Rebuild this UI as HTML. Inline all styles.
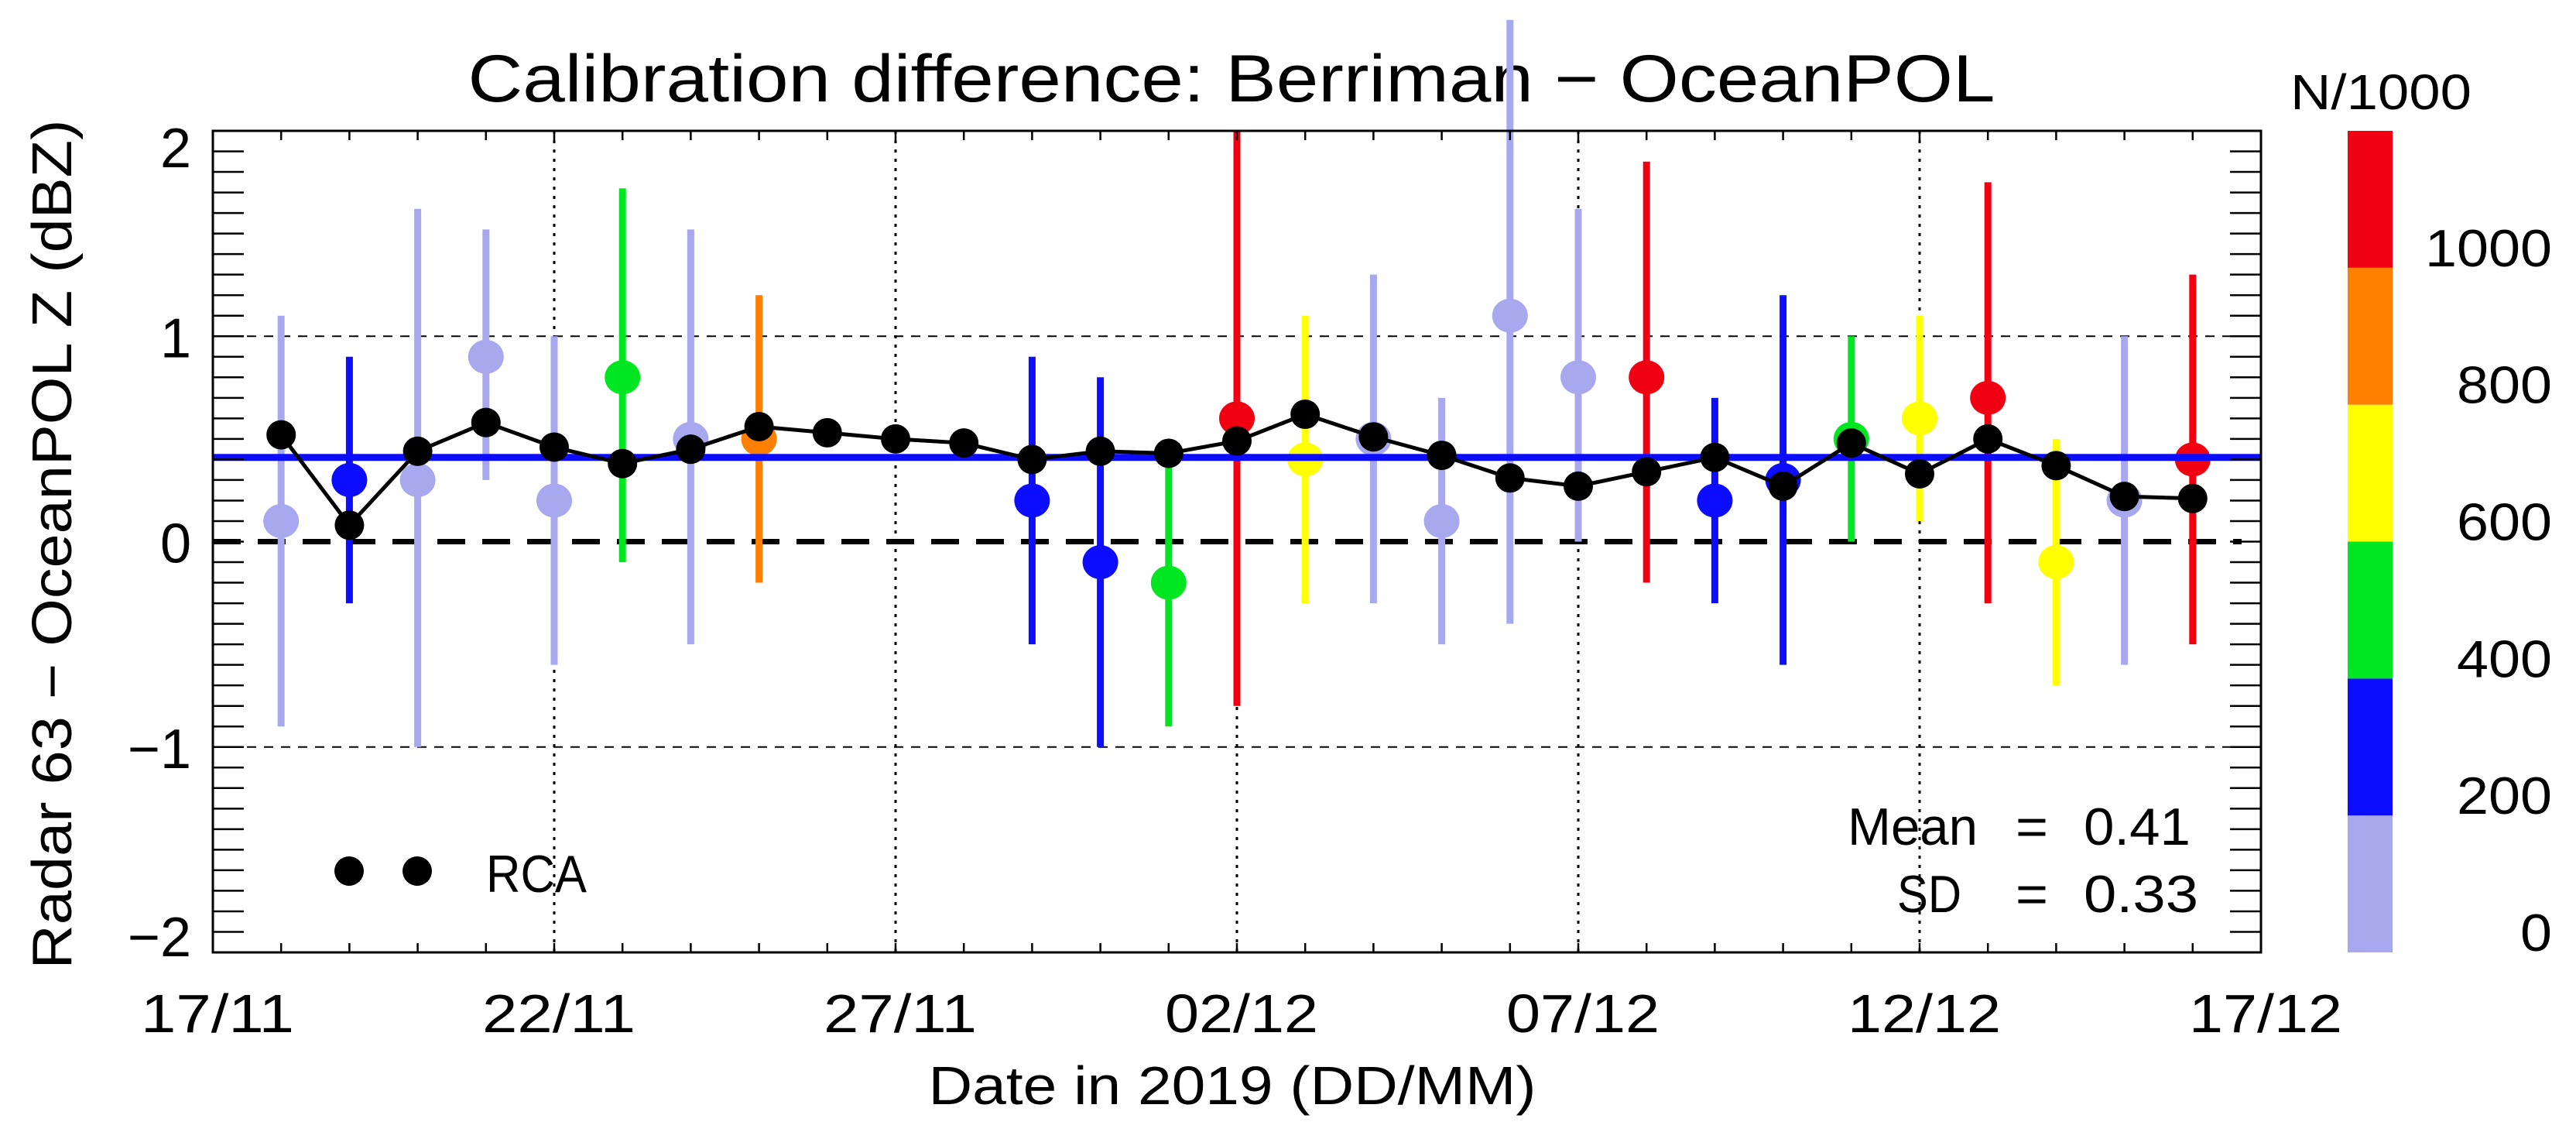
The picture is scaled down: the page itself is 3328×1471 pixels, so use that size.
<!DOCTYPE html>
<html><head><meta charset="utf-8">
<style>
html,body{margin:0;padding:0;background:#fff;}
svg{display:block;font-family:"Liberation Sans",sans-serif;}
</style></head>
<body>
<svg id="chart" width="3328" height="1471" viewBox="0 0 3328 1471" xmlns="http://www.w3.org/2000/svg">
<text x="1591" y="131" font-size="86" text-anchor="middle" textLength="1973" lengthAdjust="spacingAndGlyphs">Calibration difference: Berriman − OceanPOL</text>
<text x="0" y="0" font-size="72" text-anchor="middle" textLength="1097" lengthAdjust="spacingAndGlyphs" transform="translate(92,703) rotate(-90)">Radar 63 − OceanPOL Z (dBZ)</text>
<text x="1592" y="1426" font-size="70" text-anchor="middle" textLength="785" lengthAdjust="spacingAndGlyphs">Date in 2019 (DD/MM)</text>
<g id="plot"></g>
</svg>
<script>
const days = [1,2,3,4,5,6,7,8,9,10,11,12,13,14,15,16,17,18,19,20,21,22,23,24,25,26,27,28,29];
const rcaValues = [0.52,0.08,0.44,0.58,0.46,0.38,0.45,0.56,0.53,0.50,0.48,0.40,0.44,0.43,0.49,0.62,0.51,0.42,0.31,0.27,0.34,0.41,0.27,0.48,0.33,0.50,0.37,0.22,0.21];
const obsDays = [1,2,3,4,5,6,7,8,12,13,14,15,16,17,18,19,20,21,22,23,24,25,26,27,28,29];
const obsMean = [0.1,0.3,0.3,0.9,0.2,0.8,0.5,0.5,0.2,-0.1,-0.2,0.6,0.4,0.5,0.1,1.1,0.8,0.8,0.2,0.3,0.5,0.6,0.7,-0.1,0.2,0.4];
const obsLow = [-0.9,-0.3,-1.0,0.3,-0.6,-0.1,-0.5,-0.2,-0.5,-1.0,-0.9,-0.8,-0.3,-0.3,-0.5,-0.4,0.0,-0.2,-0.3,-0.6,0.0,0.1,-0.3,-0.7,-0.6,-0.5];
const obsHigh = [1.1,0.9,1.62,1.52,1.0,1.72,1.52,1.2,0.9,0.8,0.4,2.0,1.1,1.3,0.7,2.54,1.62,1.85,0.7,1.2,1.0,1.1,1.75,0.5,1.0,1.3];
const obsN = [100,300,100,100,100,500,100,900,300,300,500,1100,700,100,100,100,100,1100,300,300,500,700,1100,700,100,1100];
const meanValue = 0.41;
const sdValue = 0.33;
const xTickLabels = ["17/11","22/11","27/11","02/12","07/12","12/12","17/12"];
const xTickDays = [0,5,10,15,20,25,30];
const yTicks = [-2,-1,0,1,2];
const cbLevels = [0,200,400,600,800,1000,1200];
const cbLabels = [0,200,400,600,800,1000];

const PL=275, PR=2921, PT=169, PB=1230;
const X = d => PL + d*(PR-PL)/30;
const Y = v => PB - (v+2)*(PB-PT)/4;
const cbColors = ["#a8a8ee","#0c0cff","#00e620","#ffff00","#ff8000","#f00010"];
const colorFor = n => cbColors[Math.min(5, Math.floor(n/200))];
const NS="http://www.w3.org/2000/svg";
const g=document.getElementById('plot');
function mk(tag, attrs, parent){const e=document.createElementNS(NS,tag);for(const k in attrs)e.setAttribute(k,attrs[k]);(parent||g).appendChild(e);return e;}

// grid
[-1,1].forEach(v=>{const e=mk('line',{x1:PL,x2:PR,y1:Y(v),y2:Y(v),stroke:'#000','stroke-width':2,'stroke-dasharray':'12,10'});

});
[5,10,15,20,25].forEach(d=>{const e=mk('line',{x1:X(d),x2:X(d),y1:PT,y2:PB,stroke:'#000','stroke-width':3,'stroke-dasharray':'4,8'});

});
const zl=mk('line',{x1:PL,x2:PR-25,y1:Y(0),y2:Y(0),stroke:'#000','stroke-width':7,'stroke-dasharray':'36,22'});



// error bars and markers
obsDays.forEach((d,i)=>{
  const c=colorFor(obsN[i]);
  const b=mk('line',{x1:X(d),x2:X(d),y1:Y(obsLow[i]),y2:Y(obsHigh[i]),stroke:c,'stroke-width':9});
  
  
  const m=mk('ellipse',{cx:X(d),cy:Y(obsMean[i]),rx:23,ry:22,fill:c});
  
  
});
// mean line
const ml=mk('line',{x1:PL,x2:PR,y1:Y(meanValue),y2:Y(meanValue),stroke:'#0c0cff','stroke-width':9});


// RCA
const rl=mk('polyline',{points:days.map((d,i)=>X(d)+','+Y(rcaValues[i])).join(' '),fill:'none',stroke:'#000','stroke-width':5});


days.forEach((d,i)=>{const c=mk('circle',{cx:X(d),cy:Y(rcaValues[i]),r:19,fill:'#000'});

});

// frame
const fr=mk('rect',{x:PL,y:PT,width:PR-PL,height:PB-PT,fill:'none',stroke:'#000','stroke-width':3});


// y ticks
for(let k=-20;k<=20;k++){const v=k/10;const len=40;
 [[PL,PL+len],[PR,PR-len]].forEach(p=>{const t=mk('line',{x1:p[0],x2:p[1],y1:Y(v),y2:Y(v),stroke:'#000','stroke-width':2.5});
 
 });}
yTicks.forEach(v=>{const off = v===2?47:(v===-2?5:27);
const t=mk('text',{x:247,y:Y(v)+off,'font-size':72,'text-anchor':'end'});t.textContent=(v<0?'−':'')+Math.abs(v);

});
// x ticks
for(let d=0;d<=30;d++){[[PT,PT+12],[PB,PB-12]].forEach(p=>{const t=mk('line',{x1:X(d),x2:X(d),y1:p[0],y2:p[1],stroke:'#000','stroke-width':2.5});

});}
xTickDays.forEach((d,i)=>{const t=mk('text',{x:X(d)+6,y:1333,'font-size':70,'text-anchor':'middle',textLength:198,lengthAdjust:'spacingAndGlyphs'});t.textContent=xTickLabels[i];

});

// legend
[451,539].forEach(x=>{const c=mk('circle',{cx:x,cy:1125,r:19,fill:'#000'});

});
const lt=mk('text',{x:628,y:1152,'font-size':68,textLength:130,lengthAdjust:'spacingAndGlyphs'});lt.textContent='RCA';


// stats
function statText(name,label,lx,lw,val,vw,y){
  const a=mk('text',{x:lx,y:y,'font-size':68,textLength:lw,lengthAdjust:'spacingAndGlyphs'});a.textContent=label;
  
  
  const b=mk('text',{x:2604,y:y,'font-size':68,textLength:42,lengthAdjust:'spacingAndGlyphs'});b.textContent='=';
  
  
  const c=mk('text',{x:2692,y:y,'font-size':68,textLength:vw,lengthAdjust:'spacingAndGlyphs'});c.textContent=val;
  
  
}
statText('mean-stat','Mean',2387,168,meanValue.toFixed(2),138,1091);
statText('sd-stat','SD',2451,83,sdValue.toFixed(2),148,1178);

// colorbar
const CB = v => PB - v*(PB-PT)/1200;
for(let i=0;i<6;i++){const r=mk('rect',{x:3033,y:CB(cbLevels[i+1]),width:58,height:CB(cbLevels[i])-CB(cbLevels[i+1]),fill:cbColors[i]});

}
cbLabels.forEach(v=>{const s=String(v);const t=mk('text',{x:3297,y:CB(v)-2,'font-size':68,'text-anchor':'end',textLength:41*s.length,lengthAdjust:'spacingAndGlyphs'});t.textContent=s;

});
const ct=mk('text',{x:2959,y:141,'font-size':64,textLength:234,lengthAdjust:'spacingAndGlyphs'});ct.textContent='N/1000';


</script>
</body></html>
